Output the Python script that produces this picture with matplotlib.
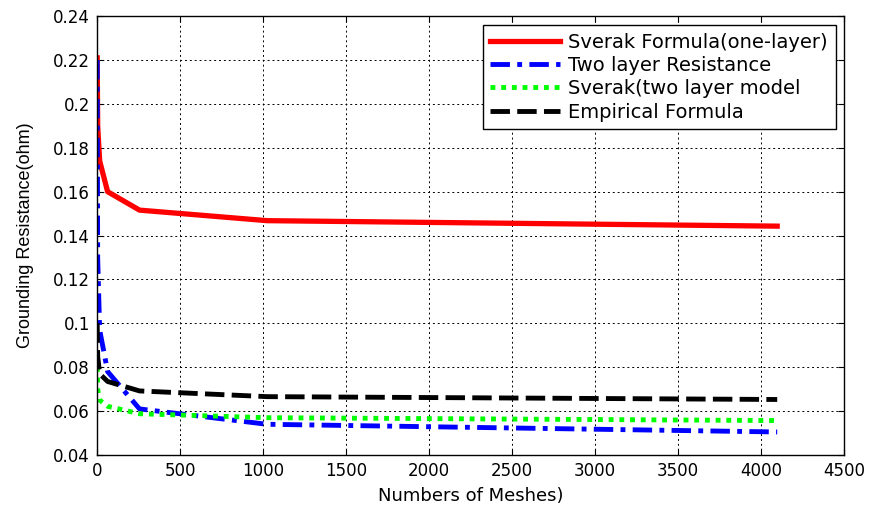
import numpy as np
import matplotlib.pyplot as plt

plt.rcParams['font.family'] = ['DejaVu Sans']

# Number of meshes (square grids)
meshes = [1, 4, 16, 64, 256, 1024, 4096]

sverak_one = [0.221, 0.19, 0.174, 0.160, 0.1516, 0.1468, 0.1443]
two_layer = [0.22, 0.13, 0.097, 0.078, 0.061, 0.0540, 0.0505]
sverak_two = [0.085, 0.070, 0.065, 0.0622, 0.0588, 0.0570, 0.0557]
empirical = [0.100, 0.085, 0.077, 0.0735, 0.0692, 0.0666, 0.0653]

fig = plt.figure(figsize=(8.74, 5.05), dpi=100)
ax = fig.add_axes([0.111, 0.099, 0.855, 0.869])

ax.plot(meshes, sverak_one, color='red', lw=3.8, ls='-', label='Sverak Formula(one-layer)')
ax.plot(meshes, two_layer, color='blue', lw=3.5, ls=(0, (4, 1.5, 1, 1.5)), label='Two layer Resistance')
ax.plot(meshes, sverak_two, color='#00ff00', lw=3.5, ls=(0, (1, 1.2)), label='Sverak(two layer model')
ax.plot(meshes, empirical, color='black', lw=3.5, ls=(0, (4, 1.5)), label='Empirical Formula')

ax.set_xlim(0, 4500)
ax.set_ylim(0.04, 0.24)
ax.set_xticks(np.arange(0, 4501, 500))
ax.set_yticks(np.arange(0.04, 0.2401, 0.02))
ax.set_yticklabels(['0.04', '0.06', '0.08', '0.1', '0.12', '0.14', '0.16', '0.18', '0.2', '0.22', '0.24'])
ax.tick_params(direction='in', top=True, right=True, labelsize=12, length=4, pad=5)
ax.grid(True, color='black', ls=(0, (2, 3)), lw=0.7)
for s in ax.spines.values():
    s.set_linewidth(1.0)

ax.set_xlabel('Numbers of Meshes)', fontsize=13, labelpad=5)
ax.set_ylabel('Grounding Resistance(ohm)', fontsize=13, labelpad=14, family='Liberation Sans')

leg = ax.legend(loc='upper right', fontsize=14, fancybox=False, edgecolor='black',
                framealpha=1, handlelength=3.6, handletextpad=0.4, borderaxespad=0.45,
                labelspacing=0.22, borderpad=0.4)
leg.get_frame().set_linewidth(1.0)

fig.savefig('out.png', dpi=100)
